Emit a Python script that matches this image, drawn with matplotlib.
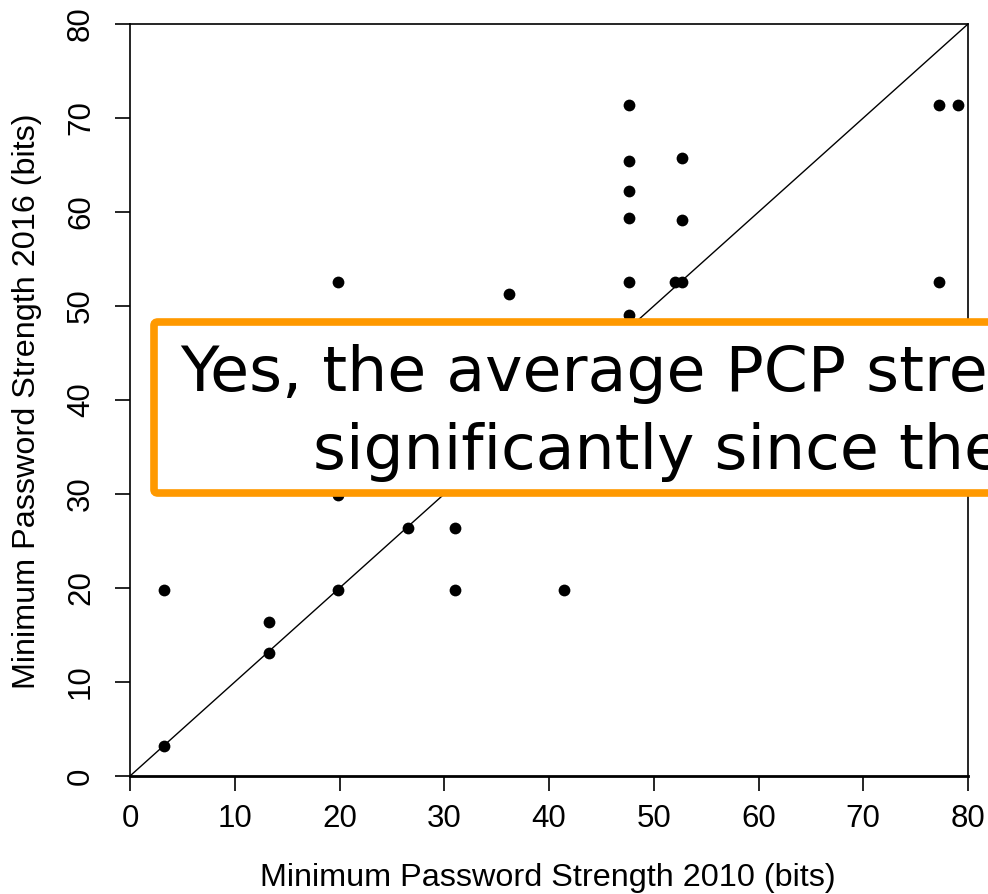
import matplotlib
matplotlib.use("Agg")
import matplotlib.pyplot as plt
from matplotlib.patches import FancyBboxPatch

# Data
x2010 = [3.25, 3.25, 13.3, 13.3, 19.9, 19.9, 19.9, 26.5, 31.0, 31.0, 41.4, 36.2,
         47.6, 47.6, 47.6, 47.6, 47.6, 47.6, 52.7, 52.7, 52.7, 52.0, 77.2, 79.0, 77.2]
y2016 = [3.2, 19.8, 16.4, 13.1, 19.8, 29.9, 52.6, 26.4, 26.4, 19.8, 19.8, 51.3,
         71.4, 65.4, 62.2, 59.4, 52.6, 49.0, 65.7, 59.2, 52.6, 52.6, 71.4, 71.4, 52.6]
ticks = [0, 10, 20, 30, 40, 50, 60, 70, 80]
xlabel = "Minimum Password Strength 2010 (bits)"
ylabel = "Minimum Password Strength 2016 (bits)"
line1 = "Yes, the average PCP strength has increased"
line2 = "significantly since then."

W, H = 988, 894
fig = plt.figure(figsize=(W / 100, H / 100), dpi=100)
ax = fig.add_axes([130 / W, 1 - 776 / H, 838 / W, 752 / H])

ax.plot([0, 80], [0, 80], color="black", lw=1.0, zorder=2)
ax.scatter(x2010, y2016, s=72, color="black", zorder=3, linewidths=0)

ax.set_xlim(0, 80)
ax.set_ylim(0, 80)
ax.set_xticks(ticks)
ax.set_yticks(ticks)
ax.set_xticklabels([str(t) for t in ticks], fontsize=22.5, family="Liberation Sans")
ax.set_yticklabels([str(t) for t in ticks], fontsize=22.5, family="Liberation Sans",
                   rotation=90, va="center")
ax.tick_params(length=10.5, width=1.2, direction="out")
ax.tick_params(axis="x", pad=10)
ax.tick_params(axis="y", pad=14)
for s in ax.spines.values():
    s.set_linewidth(1.2)
ax.spines["bottom"].set_linewidth(2.0)

fig.text(548 / W, 1 - 878 / H, xlabel, fontsize=23.3, family="Liberation Sans",
         ha="center", va="center")
fig.text(27 / W, 1 - 401 / H, ylabel, fontsize=23.3, family="Liberation Sans",
         ha="center", va="center", rotation=90)

# Annotation box (extends past the right edge, clipped like the reference)
box = FancyBboxPatch((154 / W, 1 - 493 / H), (1100 - 154) / W, (493 - 322) / H,
                     boxstyle="round,pad=0,rounding_size=0.004",
                     transform=fig.transFigure, facecolor="white",
                     edgecolor="#FF9900", linewidth=5.5, zorder=10)
fig.add_artist(box)
fig.text(180 / W, 1 - 391 / H, line1, fontsize=45.5, family="DejaVu Sans",
         ha="left", va="baseline", zorder=11)
fig.text(313 / W, 1 - 469 / H, line2, fontsize=45.5, family="DejaVu Sans",
         ha="left", va="baseline", zorder=11)

fig.savefig("out.png", dpi=100)
